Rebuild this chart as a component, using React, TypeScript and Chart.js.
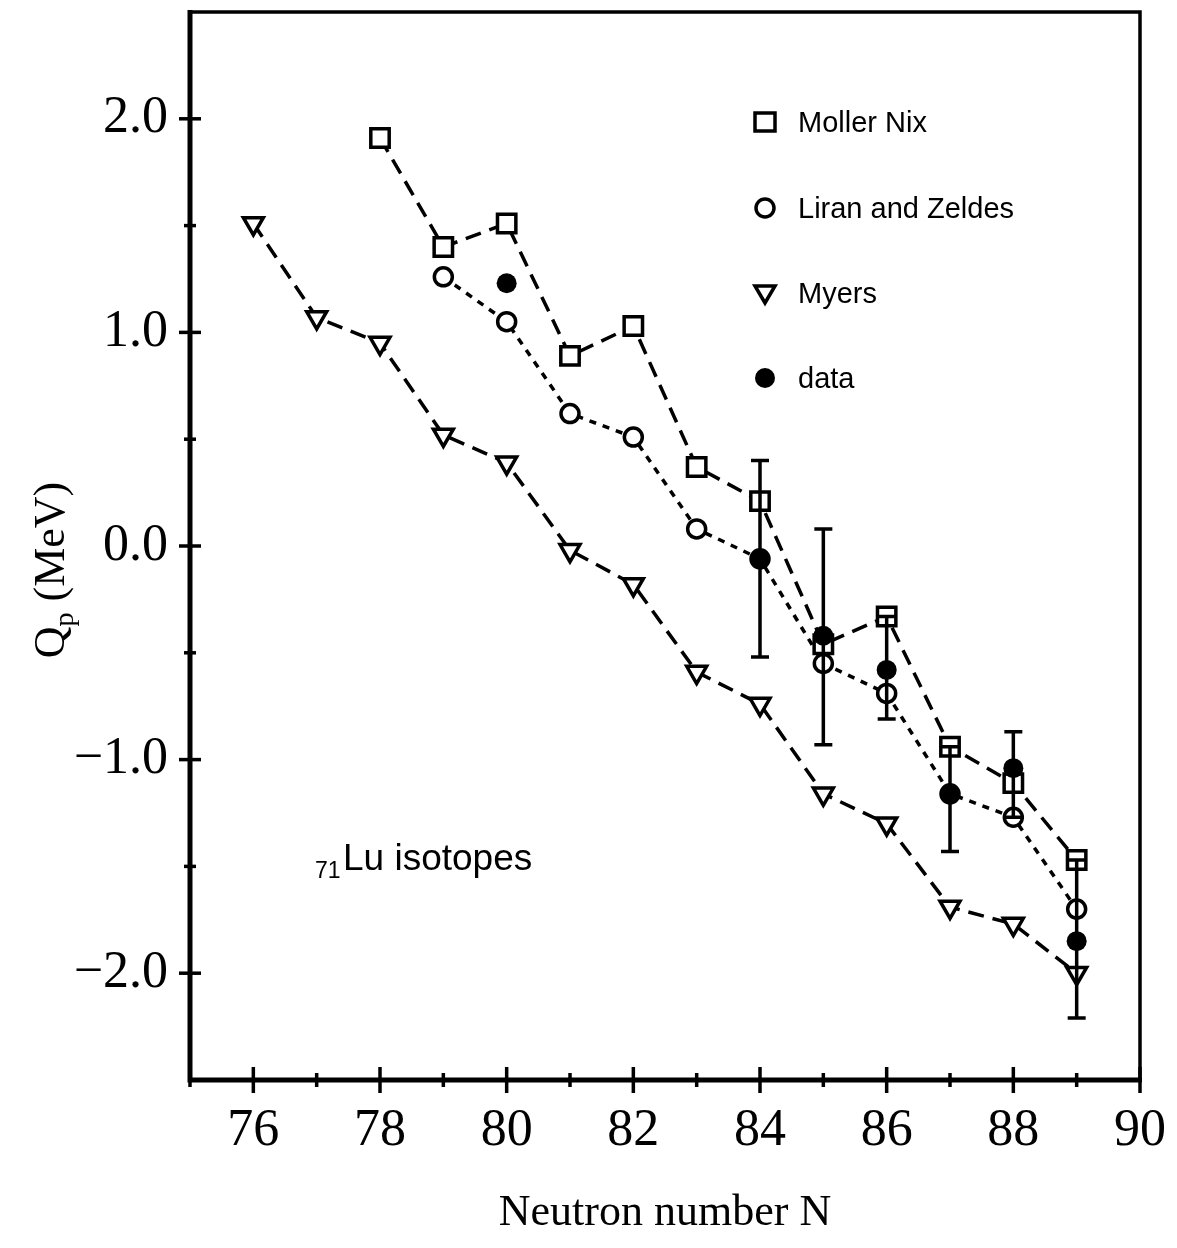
import React, { useEffect, useRef } from "react";
import { Chart, registerables } from "chart.js";

Chart.register(...registerables);

// ---- data ----
const mollerN = [78, 79, 80, 81, 82, 83, 84, 85, 86, 87, 88, 89];
const mollerQ = [1.91, 1.40, 1.51, 0.89, 1.03, 0.37, 0.21, -0.46, -0.33, -0.94, -1.11, -1.47];

const liranN = [79, 80, 81, 82, 83, 84, 85, 86, 87, 88, 89];
const liranQ = [1.26, 1.05, 0.62, 0.51, 0.08, -0.06, -0.55, -0.69, -1.16, -1.27, -1.70];

const myersN = [76, 77, 78, 79, 80, 81, 82, 83, 84, 85, 86, 87, 88, 89];
const myersQ = [1.51, 1.07, 0.95, 0.52, 0.39, -0.02, -0.18, -0.59, -0.74, -1.16, -1.30, -1.69, -1.77, -2.00];

const dataN = [80, 84, 85, 86, 87, 88, 89];
const dataQ = [1.23, -0.06, -0.42, -0.58, -1.16, -1.04, -1.85];
const dataErrLow = [null, -0.52, -0.93, -0.81, -1.43, -1.27, -2.21];
const dataErrHigh = [null, 0.40, 0.08, -0.33, -0.94, -0.87, -1.47];

const legendLabels = ["Moller Nix", "Liran and Zeldes", "Myers", "data"];
const xTitle = "Neutron number N";
const isotopeLabel = { sub: "71", main: "Lu isotopes" };

const SERIF = "'Liberation Serif', 'Times New Roman', serif";
const SANS = "'Liberation Sans', Arial, Helvetica, sans-serif";

function pts(xs: number[], ys: number[]) {
  return xs.map((x, i) => ({ x, y: ys[i] }));
}

function drawMarker(ctx: CanvasRenderingContext2D, kind: string, x: number, y: number) {
  ctx.save();
  ctx.lineWidth = 3.5;
  ctx.strokeStyle = "#000";
  ctx.fillStyle = "#fff";
  ctx.setLineDash([]);
  ctx.beginPath();
  if (kind === "rect") {
    ctx.rect(x - 10, y - 9, 20, 18);
    ctx.fill();
    ctx.stroke();
  } else if (kind === "circle") {
    ctx.arc(x, y, 9, 0, Math.PI * 2);
    ctx.fill();
    ctx.stroke();
  } else if (kind === "tri") {
    ctx.moveTo(x - 10, y - 7);
    ctx.lineTo(x + 10, y - 7);
    ctx.lineTo(x, y + 10);
    ctx.closePath();
    ctx.fill();
    ctx.stroke();
  } else {
    ctx.fillStyle = "#000";
    ctx.arc(x, y, 10, 0, Math.PI * 2);
    ctx.fill();
  }
  ctx.restore();
}

const decorPlugin = {
  id: "decor",
  afterDatasetsDraw(chart: any) {
    const ctx = chart.ctx as CanvasRenderingContext2D;
    const xs = chart.scales.x;
    const ys = chart.scales.y;
    // error bars
    ctx.save();
    ctx.strokeStyle = "#000";
    ctx.lineWidth = 3.5;
    ctx.setLineDash([]);
    dataN.forEach((n, i) => {
      const lo = dataErrLow[i];
      const hi = dataErrHigh[i];
      if (lo === null || hi === null) return;
      const px = xs.getPixelForValue(n);
      const pl = ys.getPixelForValue(lo);
      const ph = ys.getPixelForValue(hi);
      ctx.beginPath();
      ctx.moveTo(px, pl);
      ctx.lineTo(px, ph);
      ctx.moveTo(px - 9, pl);
      ctx.lineTo(px + 9, pl);
      ctx.moveTo(px - 9, ph);
      ctx.lineTo(px + 9, ph);
      ctx.stroke();
    });
    ctx.restore();
  },
  afterDraw(chart: any) {
    const ctx = chart.ctx as CanvasRenderingContext2D;
    const { left, right, top, bottom } = chart.chartArea;
    const xs = chart.scales.x;
    const ys = chart.scales.y;
    ctx.save();
    ctx.strokeStyle = "#000";
    ctx.setLineDash([]);
    // frame
    ctx.lineWidth = 3.5;
    ctx.beginPath();
    ctx.moveTo(left, top);
    ctx.lineTo(right, top);
    ctx.lineTo(right, bottom);
    ctx.stroke();
    ctx.lineWidth = 5;
    ctx.beginPath();
    ctx.moveTo(left, top - 2);
    ctx.lineTo(left, bottom);
    ctx.lineTo(right + 2, bottom);
    ctx.stroke();
    // y ticks
    ctx.lineWidth = 3.5;
    ys.ticks.forEach((t: any) => {
      if (t.value <= ys.min || t.value >= ys.max) return;
      const y = ys.getPixelForValue(t.value);
      const major = Number.isInteger(t.value);
      const len = major ? 11 : 6;
      ctx.beginPath();
      ctx.moveTo(left - len, y);
      ctx.lineTo(left + len, y);
      ctx.stroke();
    });
    // x ticks
    xs.ticks.forEach((t: any) => {
      const x = xs.getPixelForValue(t.value);
      const major = t.value % 2 === 0;
      const len = major ? 13 : 7;
      ctx.beginPath();
      ctx.moveTo(x, bottom - len);
      ctx.lineTo(x, bottom + len);
      ctx.stroke();
    });
    // legend
    const lx = 757;
    const kinds = ["rect", "circle", "tri", "dot"];
    const ly = [114, 200, 285, 370];
    ctx.textBaseline = "alphabetic";
    ctx.textAlign = "left";
    kinds.forEach((k, i) => {
      drawMarker(ctx, k, lx, ly[i]);
      ctx.fillStyle = "#000";
      ctx.font = `29px ${SANS}`;
      ctx.fillText(legendLabels[i], lx + 33, ly[i] + 10);
    });
    // isotope label
    ctx.fillStyle = "#000";
    ctx.font = `23px ${SANS}`;
    ctx.fillText(isotopeLabel.sub, 307, 870);
    ctx.font = `37px ${SANS}`;
    ctx.fillText(isotopeLabel.main, 335, 862);
    // y-axis title (rotated) with subscript
    ctx.save();
    ctx.translate(56, 562);
    ctx.rotate(-Math.PI / 2);
    const bigF = `44px ${SERIF}`;
    const smallF = `28px ${SERIF}`;
    ctx.font = bigF;
    const wQ = ctx.measureText("Q").width;
    const wRest = ctx.measureText(" (MeV)").width;
    ctx.font = smallF;
    const wP = ctx.measureText("p").width;
    const total = wQ + wP + wRest;
    let cx = -total / 2;
    ctx.font = bigF;
    ctx.fillText("Q", cx, 0);
    cx += wQ;
    ctx.font = smallF;
    ctx.fillText("p", cx, 9);
    cx += wP;
    ctx.font = bigF;
    ctx.fillText(" (MeV)", cx, 0);
    ctx.restore();
    ctx.restore();
  },
};

export default function App() {
  const ref = useRef<HTMLCanvasElement | null>(null);
  useEffect(() => {
    if (!ref.current) return;
    const lineBase = {
      showLine: true,
      fill: false,
      borderColor: "#000",
      borderWidth: 3.5,
      pointBorderColor: "#000",
      pointBackgroundColor: "#fff",
      pointBorderWidth: 3.5,
      tension: 0,
    };
    const chart = new Chart(ref.current, {
      type: "scatter",
      data: {
        datasets: [
          {
            label: legendLabels[3],
            data: pts(dataN, dataQ),
            showLine: false,
            pointStyle: "circle",
            pointRadius: 10,
            pointBackgroundColor: "#000",
            pointBorderColor: "#000",
            pointBorderWidth: 0,
            order: 0,
          },
          {
            ...lineBase,
            label: legendLabels[0],
            data: pts(mollerN, mollerQ),
            pointStyle: "rect",
            pointRadius: 13,
            borderDash: [16, 9],
            order: 1,
          },
          {
            ...lineBase,
            label: legendLabels[1],
            data: pts(liranN, liranQ),
            pointStyle: "circle",
            pointRadius: 9,
            borderDash: [7, 7],
            order: 2,
          },
          {
            ...lineBase,
            label: legendLabels[2],
            data: pts(myersN, myersQ),
            pointStyle: "triangle",
            pointRotation: 180,
            pointRadius: 11.5,
            borderDash: [16, 9],
            order: 3,
          },
        ] as any,
      },
      options: {
        animation: false,
        responsive: false,
        devicePixelRatio: 1,
        layout: { autoPadding: false, padding: { top: 4, right: 29, left: 0, bottom: 0 } },
        plugins: { legend: { display: false }, tooltip: { enabled: false } },
        scales: {
          x: {
            type: "linear",
            min: 75,
            max: 90,
            afterFit: (s: any) => {
              s.height = 160;
              s.paddingLeft = 0;
              s.paddingRight = 0;
              s.paddingTop = 0;
              s.paddingBottom = 0;
            },
            grid: { display: false, drawTicks: false },
            border: { display: false },
            ticks: {
              stepSize: 1,
              autoSkip: false,
              maxRotation: 0,
              padding: 20,
              color: "#000",
              font: { family: SERIF, size: 52 },
              callback: (v: any) => (Number(v) % 2 === 0 && Number(v) > 75 ? String(v) : ""),
            },
            title: {
              display: true,
              text: xTitle,
              color: "#000",
              font: { family: SERIF, size: 44 },
              padding: { top: 0, bottom: 0 },
            },
          },
          y: {
            type: "linear",
            min: -2.5,
            max: 2.5,
            afterFit: (s: any) => {
              s.width = 182;
              s.paddingLeft = 0;
              s.paddingRight = 0;
              s.paddingTop = 0;
              s.paddingBottom = 0;
            },
            grid: { display: false, drawTicks: false },
            border: { display: false },
            ticks: {
              stepSize: 0.5,
              autoSkip: false,
              padding: 22,
              color: "#000",
              font: { family: SERIF, size: 52 },
              callback: (v: any) => {
                const n = Number(v);
                if (!Number.isInteger(n) || Math.abs(n) > 2) return "";
                return (n < 0 ? "\u2212" : "") + Math.abs(n).toFixed(1);
              },
            },
          },
        },
      },
      plugins: [decorPlugin],
    } as any);
    return () => chart.destroy();
  }, []);
  return (
    <div style={{ width: 1161, height: 1232 }}>
      <canvas ref={ref} width={1161} height={1232} style={{ display: "block" }} />
    </div>
  );
}
